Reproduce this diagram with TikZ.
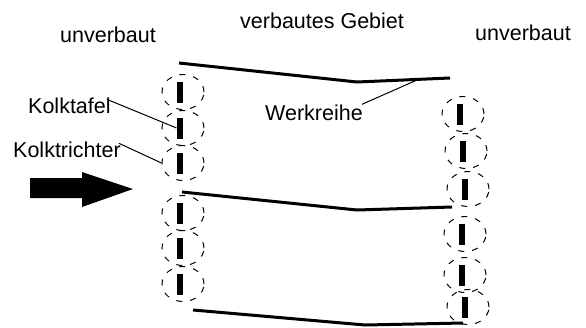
\documentclass[tikz,border=0pt]{standalone}
\usepackage{fontspec}
\setmainfont{Liberation Sans}
\usetikzlibrary{shapes.geometric}
\tikzset{
  lbl/.style={anchor=base west,inner sep=0pt,font=\fontsize{21.5}{24}\selectfont},
  kolk/.style={draw,ellipse,dash pattern=on 6pt off 8pt,line width=1pt,minimum width=42pt,minimum height=35pt,inner sep=0pt},
  tafel/.style={fill=black,rectangle,minimum width=6.5pt,minimum height=21pt,inner sep=0pt},
  werk/.style={line width=3pt},
  leader/.style={line width=1pt}
}
\begin{document}
\begin{tikzpicture}[x=1pt,y=-1pt]
\useasboundingbox (0,0) rectangle (586,327);
% texts
\node[lbl] (uvl) at (60,42) {unverbaut};
\node[lbl] (vg) at (240,28) {verbautes Gebiet};
\node[lbl] (uvr) at (475,40) {unverbaut};
\node[lbl] (kt) at (28,113) {Kolktafel};
\node[lbl] (ktr) at (13,157) {Kolktrichter};
\node[lbl] (wr) at (265,120) {Werkreihe};
% left column
\foreach \i/\y in {1/92,2/128,3/163,4/213,5/248,6/284}{
  \node[kolk] (lc\i) at (183,\y) {};
  \node[tafel] (lb\i) at (180,\y) {};
}
% right column
\foreach \i/\x/\y in {1/460/114,2/463/151,3/465/189,4/462/234,5/462/275,6/465/307}{
  \node[kolk] (rc\i) at (\x+3,\y) {};
  \node[tafel] (rb\i) at (\x,\y) {};
}
% Werkreihen
\coordinate (t1) at (179,63);
\coordinate (t2) at (357,82);
\coordinate (t3) at (450,78);
\coordinate (tw) at (417,80);
\draw[werk] (t1) -- (t2) -- (t3);
\coordinate (m1) at (182,192);
\coordinate (m2) at (357,210);
\coordinate (m3) at (452,207);
\draw[werk] (m1) -- (m2) -- (m3);
\coordinate (b1) at (193,310);
\coordinate (b2) at (365,325);
\coordinate (b3) at (463,323);
\draw[werk] (b1) -- (b2) -- (b3);
% leaders
\draw[leader] (kt.east) ++(-4,-6) coordinate (kte) -- (lb2.west);
\draw[leader] (ktr.east) ++(-2,-6) coordinate (ktre) -- (lc3.west);
\draw[leader] (wr.east) ++(-1,-8) coordinate (wre) -- (tw);
% flow arrow
\fill (30,178) coordinate (a1) -- (82,178) -- (82,172) -- (133,189) coordinate (atip) -- (82,207) -- (82,198) -- (30,198) -- cycle;
\end{tikzpicture}
\end{document}
